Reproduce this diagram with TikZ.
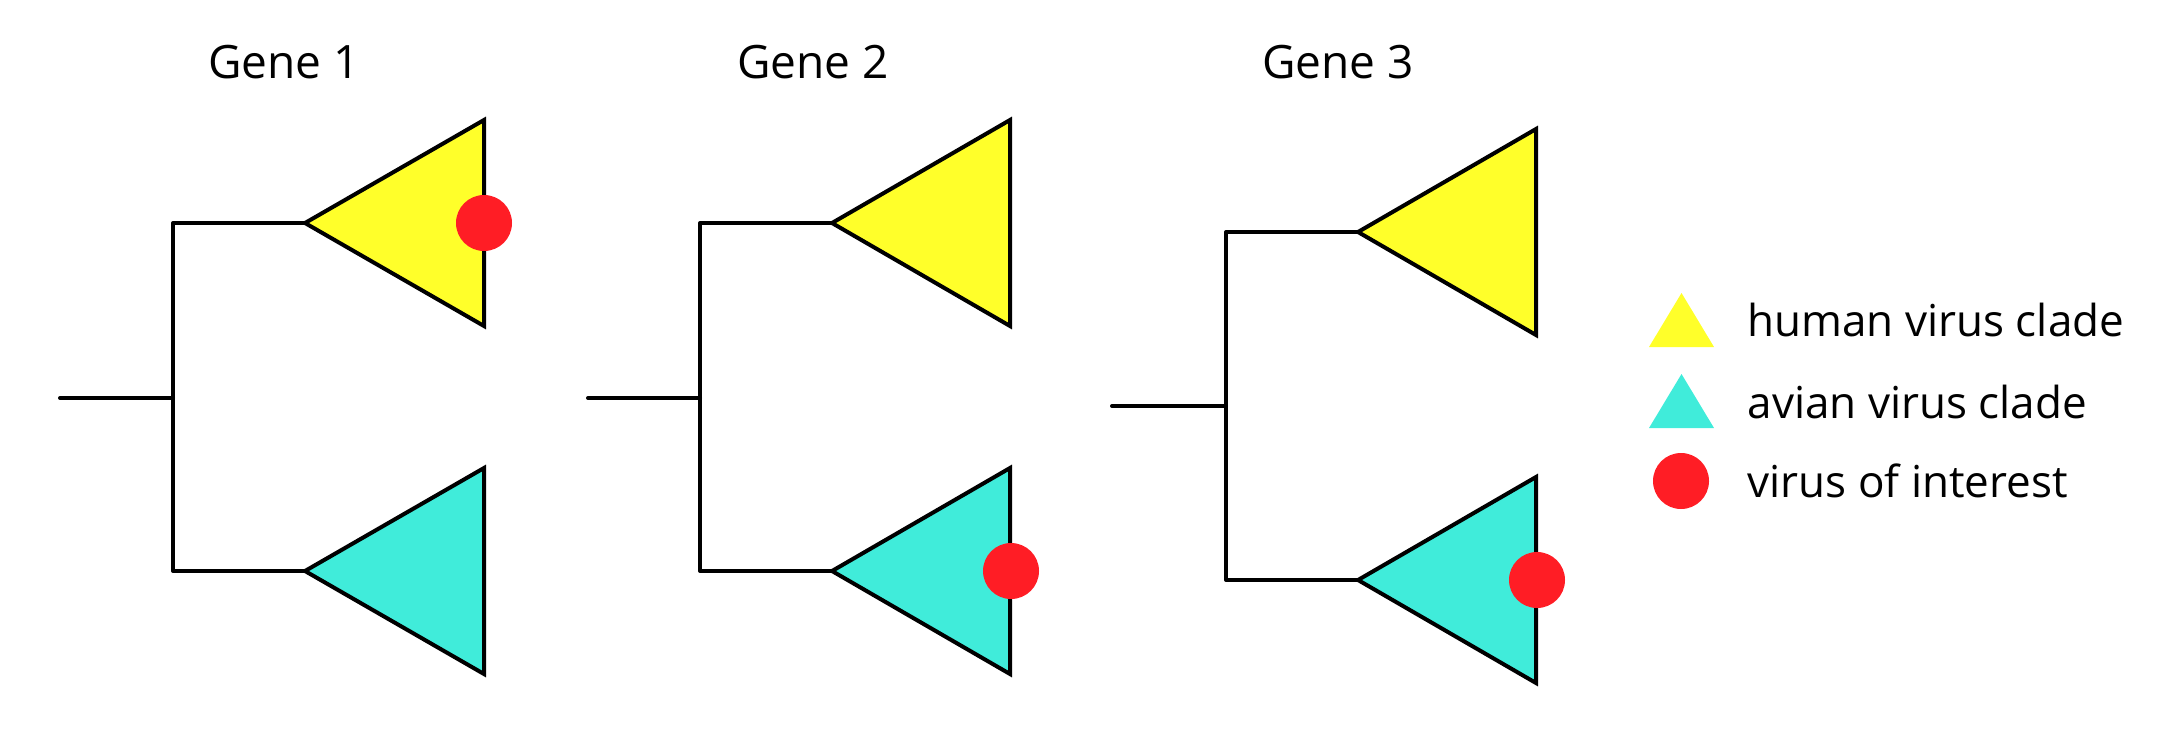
\documentclass[tikz,border=0pt]{standalone}
\usepackage{fontspec}
\setmainfont{Open Sans}
\definecolor{hum}{RGB}{255,255,42}
\definecolor{avi}{RGB}{64,236,218}
\definecolor{voi}{RGB}{255,29,37}
\tikzset{
  branch/.style={line width=4pt, line cap=round, line join=round},
  clade/.style={draw=black, line width=4pt, line join=miter},
  dot/.style={fill=voi},
  title/.style={font=\fontsize{46}{50}\selectfont, anchor=center},
  legtext/.style={font=\fontsize{44}{48}\selectfont, anchor=west}
}
\begin{document}
\begin{tikzpicture}[x=1pt,y=-1pt]
\useasboundingbox (0,0) rectangle (2175,737);
% tree(name, rootx, rooty, vx, topy, boty, tipx, rightx)
\newcommand{\mytree}[8]{%
  \coordinate (#1r) at (#2,#3);
  \coordinate (#1v) at (#4,#3);
  \coordinate (#1vt) at (#4,#5);
  \coordinate (#1vb) at (#4,#6);
  \coordinate (#1tt) at (#7,#5);
  \coordinate (#1tb) at (#7,#6);
  \draw[clade,fill=hum] (#1tt) -- (#8,#5-103) -- (#8,#5+103) -- cycle;
  \draw[clade,fill=avi] (#1tb) -- (#8,#6-103) -- (#8,#6+103) -- cycle;
  \draw[branch] (#1r) -- (#1v);
  \draw[branch] (#1tt) -- (#1vt) -- (#1vb) -- (#1tb);
}
\mytree{a}{60}{398}{173}{223}{571}{305}{484}
\mytree{b}{588}{398}{700}{223}{571}{832}{1010}
\mytree{c}{1112}{406}{1226}{232}{580}{1358}{1536}
\fill[dot] (484,223) circle (28);
\fill[dot] (1011,571) circle (28);
\fill[dot] (1537,580) circle (28);
\node[title] (t1) at (284,62) {Gene 1};
\node[title] (t2) at (813,62) {Gene 2};
\node[title] (t3) at (1338,62) {Gene 3};
% legend
\fill[hum] (1649,347) -- (1681.5,293) -- (1714,347) -- cycle;
\fill[avi] (1649,428) -- (1681.5,374) -- (1714,428) -- cycle;
\fill[dot] (1681,481) circle (28);
\node[legtext] (l1) at (1744,320) {human virus clade};
\node[legtext] (l2) at (1744,402) {avian virus clade};
\node[legtext] (l3) at (1744,481) {virus of interest};
\end{tikzpicture}
\end{document}
